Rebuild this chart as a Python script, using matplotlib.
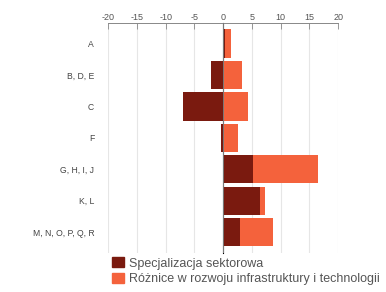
import matplotlib
matplotlib.use("Agg")
import matplotlib.pyplot as plt
from matplotlib.patches import Patch
import numpy as np

plt.rcParams["font.family"] = ["Liberation Sans", "DejaVu Sans"]

categories = ["A", "B, D, E", "C", "F", "G, H, I, J", "K, L", "M, N, O, P, Q, R"]
specjalizacja = [0.3, -2.1, -7.0, -0.3, 5.2, 6.5, 3.0]
roznice = [1.1, 3.3, 4.3, 2.6, 11.3, 0.8, 5.6]
xticks = [-20, -15, -10, -5, 0, 5, 10, 15, 20]
series_names = ["Specjalizacja sektorowa", "Różnice w rozwoju infrastruktury i technologii"]

dark = "#7a1a0f"
light = "#f4623c"

fig = plt.figure(figsize=(3.86, 2.92), dpi=100)
ax = fig.add_axes([0.28, 0.135, 0.596, 0.786])

y = np.arange(len(categories))
spec = np.array(specjalizacja)
roz = np.array(roznice)
light_left = np.where(spec > 0, spec, 0)

ax.barh(y, spec, height=0.9, color=dark, zorder=3)
ax.barh(y, roz, left=light_left, height=0.9, color=light, zorder=3)

ax.set_xlim(-20, 20)
ax.set_ylim(6.65, -0.65)
ax.xaxis.tick_top()
ax.set_xticks(xticks)
ax.set_xticklabels([str(t) for t in xticks], fontsize=6.5, color="#555555")
ax.tick_params(axis="x", direction="in", length=4, width=0.6, color="#888888", pad=1)
for xv in xticks:
    ax.axvline(xv, color="#e6e6e6", lw=0.8, zorder=1)
ax.axvline(0, color="#777777", lw=0.7, zorder=4)

ax.set_yticks(y)
ax.set_yticklabels(categories, fontsize=6.2, color="#444444")
ax.tick_params(axis="y", length=0, pad=10)

sec = ax.secondary_yaxis(0.5)
sec.set_yticks(y)
sec.set_yticklabels([])
sec.tick_params(axis="y", direction="out", length=2.5, width=0.6, color="#666666")
sec.spines["left"].set_visible(False)

for s in ["left", "right", "bottom"]:
    ax.spines[s].set_visible(False)
ax.spines["top"].set_color("#888888")
ax.spines["top"].set_linewidth(0.7)

handles = [Patch(color=dark), Patch(color=light)]
fig.legend(handles, series_names, loc="lower left", bbox_to_anchor=(0.262, -0.015),
           frameon=False, fontsize=9, handlelength=0.9, handleheight=0.9,
           handletextpad=0.4, labelspacing=0.25, labelcolor="#555555")

fig.savefig("out.png", dpi=100)
